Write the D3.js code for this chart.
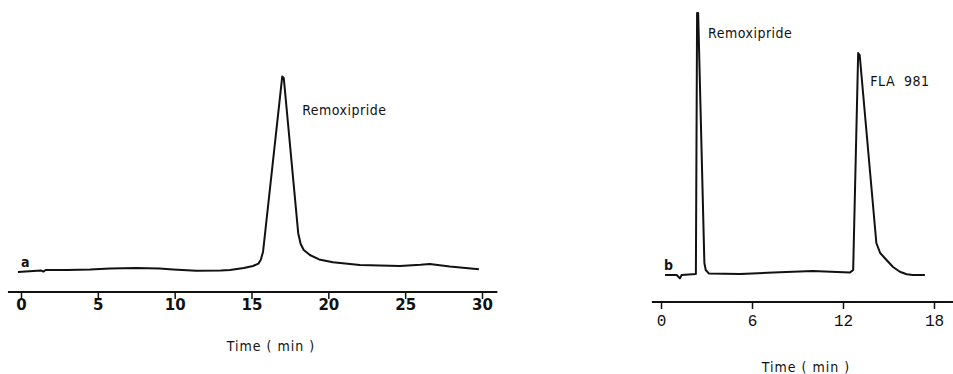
<!DOCTYPE html>
<html lang="en">
<head>
<meta charset="UTF-8">
<title>Chromatograms</title>
<script src="https://d3js.org/d3.v7.min.js"></script>
<style>
  body { margin: 0; background: #fff; }
  svg { display: block; }
  .trace { fill: none; stroke: #111; stroke-width: 2; stroke-linejoin: round; }
  .axis path, .axis line { stroke: #111; }
  .axis path { stroke-width: 2; }
  .axis line { stroke-width: 1.5; }
  .lbl { font-family: "DejaVu Sans Condensed", "DejaVu Sans", sans-serif; fill: #111; }
</style>
</head>
<body>
<div id="chart"></div>
<script>
// chromatogram a: time (min), detector response (arbitrary units)
const timeA = [-0.2, 1.3, 1.45, 1.6, 3.0, 4.5, 5.8, 7.5, 9.0, 9.9, 11.4, 13.0, 13.6, 14.5, 15.1, 15.45, 15.6, 15.75, 17.0, 17.1, 18.04, 18.2, 18.4, 18.8, 19.4, 20.3, 22.05, 24.65, 26.0, 26.6, 27.9, 29.8];
const respA = [0, 0.8, 0.2, 1.0, 1.0, 1.3, 1.8, 2.0, 1.7, 1.3, 0.6, 0.7, 1.0, 2.0, 3.0, 4.2, 6.0, 10, 97.7, 97, 19.4, 14, 11, 8.5, 6.3, 4.9, 3.5, 3.0, 3.6, 4.0, 2.7, 1.4];
// chromatogram b
const timeB = [0.27, 1.03, 1.25, 1.36, 2.3, 2.38, 2.45, 2.86, 2.95, 3.15, 5.2, 7.4, 10.0, 12.45, 12.67, 13.0, 13.1, 14.2, 14.45, 14.87, 15.3, 15.75, 16.2, 16.6, 17.4];
const respB = [0, 0, -1.7, 0, 0.5, 131, 131, 6, 2.5, 0.8, 0.5, 1.2, 2.0, 1.2, 2.5, 111, 110, 16, 11, 7.5, 4, 1.6, 0.4, 0, 0];

const ticksA = [0, 5, 10, 15, 20, 25, 30];
const ticksB = [0, 6, 12, 18];

const width = 953, height = 374;
const svg = d3.select("#chart").append("svg")
    .attr("width", width).attr("height", height);

// panel a
const xA = d3.scaleLinear().domain([0, 30]).range([21, 482]);
const yA = d3.scaleLinear().domain([0, 100]).range([272, 72]);
// panel b
const xB = d3.scaleLinear().domain([0, 18]).range([661, 934]);
const yB = d3.scaleLinear().domain([0, 100]).range([275, 75]);

function drawPanel(x, y, t, r, ticks, axisY, ext, tickFont, tickSize, labelY) {
    const line = d3.line().x(d => x(d[0])).y(d => y(d[1]));
    svg.append("path").attr("class", "trace")
        .attr("d", line(t.map((v, i) => [v, r[i]])));

    const g = svg.append("g").attr("class", "axis")
        .attr("transform", `translate(0,${axisY})`)
        .call(d3.axisBottom(x).tickValues(ticks).tickSize(7).tickSizeOuter(0).tickFormat(d3.format("d")));
    // axis line runs a little past both end ticks
    g.select(".domain").attr("d", `M${x(ext[0])},0H${x(ext[1])}`);
    g.selectAll(".tick text")
        .attr("y", labelY)
        .attr("fill", "#111")
        .style("font-family", tickFont)
        .style("font-size", tickSize + "px")
        .style("font-weight", "bold");
    return g;
}

drawPanel(xA, yA, timeA, respA, ticksA, 292, [-0.85, 31.0], "'DejaVu Sans', sans-serif", 15, 7);
const gB = drawPanel(xB, yB, timeB, respB, ticksB, 302, [-0.6, 19.3], "'Liberation Mono', monospace", 16, 13);
gB.selectAll(".tick text").style("font-weight", "normal");

// labels
svg.append("text").attr("class", "lbl").attr("x", xA(18.3)).attr("y", yA(78.5))
    .style("font-size", "14px").style("letter-spacing", "0.5px").text("Remoxipride");
svg.append("text").attr("class", "lbl").attr("x", xA(0)).attr("y", yA(2.5))
    .style("font-size", "14px").style("font-weight", "bold").text("a");
svg.append("text").attr("class", "lbl").attr("x", 271).attr("y", 351)
    .attr("text-anchor", "middle").style("font-size", "14px").style("letter-spacing", "1px")
    .attr("xml:space", "preserve").text("Time ( min )");

svg.append("text").attr("class", "lbl").attr("x", xB(3.1)).attr("y", yB(118.5))
    .style("font-size", "14px").style("letter-spacing", "0.5px").text("Remoxipride");
svg.append("text").attr("class", "lbl").attr("x", xB(13.8)).attr("y", yB(94.5))
    .style("font-size", "14px").style("letter-spacing", "0.5px").attr("xml:space", "preserve").text("FLA  981");
svg.append("text").attr("class", "lbl").attr("x", xB(0.2)).attr("y", yB(2.5))
    .style("font-size", "14px").style("font-weight", "bold").text("b");
svg.append("text").attr("class", "lbl").attr("x", 806).attr("y", 372)
    .attr("text-anchor", "middle").style("font-size", "14px").style("letter-spacing", "1px")
    .attr("xml:space", "preserve").text("Time ( min )");
</script>
</body>
</html>
